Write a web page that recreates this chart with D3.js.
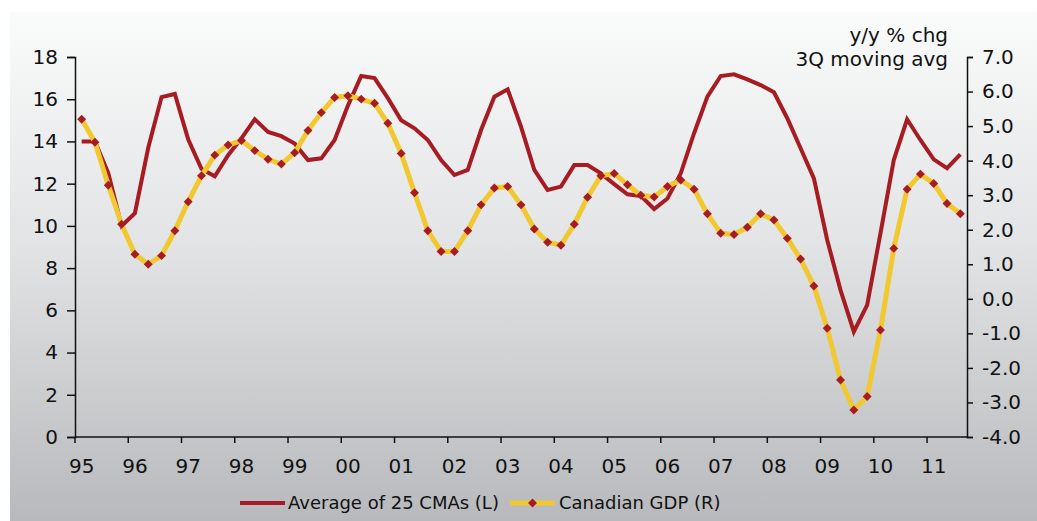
<!DOCTYPE html>
<html lang="en">
<head>
  <meta charset="UTF-8">
  <title>CMA average vs Canadian GDP</title>
  <script src="https://d3js.org/d3.v7.min.js"></script>
  <style>
    body {
      margin: 0;
      background: #ffffff;
      font-family: "DejaVu Sans", Verdana, sans-serif;
    }
    svg text {
      font-family: "DejaVu Sans", Verdana, sans-serif;
      font-size: 18px;
      fill: #111;
    }
    .axis path, .axis line {
      stroke: #111;
      stroke-width: 1.5px;
    }
  </style>
</head>
<body>
  <div id="chart"></div>

  <script>
    // year labels on the x axis, one per year, 3 quarters shown for 2011
    const yearLabels = ["95", "96", "97", "98", "99", "00", "01", "02", "03",
                        "04", "05", "06", "07", "08", "09", "10", "11"];

    // quarterly values, 1995Q1 .. 2011Q3
    const cmaAverage = [
      14.0, 14.0, 12.5, 10.0, 10.6, 13.7, 16.1, 16.25,
      14.1, 12.7, 12.35, 13.35, 14.15, 15.05, 14.45, 14.25,
      13.9, 13.12, 13.2, 14.07, 15.7, 17.1, 17.0, 16.05,
      15.0, 14.62, 14.07, 13.12, 12.41, 12.65, 14.54, 16.12,
      16.47, 14.7, 12.65, 11.7, 11.86, 12.88, 12.88, 12.49,
      11.98, 11.5, 11.42, 10.8, 11.3, 12.49, 14.39, 16.12,
      17.1, 17.18, 16.94, 16.67, 16.33, 15.1, 13.68, 12.25,
      9.33, 6.96, 4.99, 6.25, 9.65, 13.12, 15.05, 14.07,
      13.15, 12.73, 13.39
    ];

    const canadianGdp = [
      5.2, 4.53, 3.29, 2.16, 1.29, 1.0, 1.25, 1.97,
      2.81, 3.56, 4.16, 4.45, 4.58, 4.29, 4.04, 3.9,
      4.23, 4.87, 5.39, 5.83, 5.88, 5.78, 5.66, 5.08,
      4.21, 3.07, 1.97, 1.37, 1.37, 1.97, 2.72, 3.21,
      3.25, 2.72, 2.02, 1.64, 1.55, 2.16, 2.94, 3.56,
      3.63, 3.3, 3.0, 2.95, 3.25, 3.44, 3.17, 2.46,
      1.9, 1.86, 2.07, 2.46, 2.28, 1.75, 1.15, 0.37,
      -0.85, -2.35, -3.22, -2.83, -0.9, 1.46, 3.17, 3.61,
      3.34, 2.76, 2.46
    ];

    const leftTicks = [0, 2, 4, 6, 8, 10, 12, 14, 16, 18];
    const rightTicks = [-4, -3, -2, -1, 0, 1, 2, 3, 4, 5, 6, 7];

    const quarters = [];
    yearLabels.forEach(y => {
      for (let q = 1; q <= 4; q++) quarters.push(y + "Q" + q);
    });
    const cats = quarters.slice(0, cmaAverage.length);

    const width = 1037, height = 521;
    const plot = { left: 75, right: 967, top: 57, bottom: 437 };
    const axisFont = "20px";

    const x = d3.scaleBand()
      .domain(cats)
      .range([plot.left, plot.right])
      .padding(0);
    const cx = d => x(d) + x.bandwidth() / 2;

    const yL = d3.scaleLinear().domain([0, 18]).range([plot.bottom, plot.top]);
    const yR = d3.scaleLinear().domain([-4, 7]).range([plot.bottom, plot.top]);

    const svg = d3.select("#chart")
      .append("svg")
      .attr("width", width)
      .attr("height", height)
      .attr("viewBox", [0, 0, width, height]);

    const defs = svg.append("defs");
    const grad = defs.append("linearGradient")
      .attr("id", "bg")
      .attr("x1", 0).attr("y1", 0).attr("x2", 0).attr("y2", 1);
    grad.append("stop").attr("offset", "0%").attr("stop-color", "#fafbfb");
    grad.append("stop").attr("offset", "45%").attr("stop-color", "#e2e4e5");
    grad.append("stop").attr("offset", "100%").attr("stop-color", "#b7b9bc");

    svg.append("rect")
      .attr("x", 10).attr("y", 12)
      .attr("width", width - 10).attr("height", height - 12)
      .attr("fill", "url(#bg)");

    // x axis: ticks at year boundaries, labels on the first quarter
    const xAxis = svg.append("g").attr("class", "axis");
    xAxis.append("line")
      .attr("x1", plot.left).attr("x2", plot.right)
      .attr("y1", plot.bottom).attr("y2", plot.bottom);
    xAxis.selectAll(".xt")
      .data(yearLabels)
      .join("line")
        .attr("class", "xt")
        .attr("x1", d => x(d + "Q1")).attr("x2", d => x(d + "Q1"))
        .attr("y1", plot.bottom).attr("y2", plot.bottom + 6);
    xAxis.selectAll("text")
      .data(yearLabels)
      .join("text")
        .attr("x", d => cx(d + "Q1"))
        .attr("y", 473)
        .attr("text-anchor", "middle")
        .style("font-size", axisFont)
        .text(d => d);

    // left axis
    svg.append("g")
      .attr("class", "axis")
      .attr("transform", `translate(${plot.left},0)`)
      .call(d3.axisLeft(yL).tickValues(leftTicks).tickSize(8).tickSizeOuter(8).tickPadding(9))
      .call(g => g.selectAll("text").style("font-size", axisFont).attr("fill", "#111"));

    // right axis, plain hyphen for negatives as in the source
    svg.append("g")
      .attr("class", "axis")
      .attr("transform", `translate(${plot.right},0)`)
      .call(d3.axisRight(yR).tickValues(rightTicks).tickFormat(d => d.toFixed(1))
        .tickSize(6).tickSizeOuter(6).tickPadding(9))
      .call(g => g.selectAll("text").style("font-size", axisFont).attr("fill", "#111"));

    svg.append("text")
      .attr("x", 948).attr("y", 42)
      .attr("text-anchor", "end")
      .style("font-size", axisFont)
      .text("y/y % chg");
    svg.append("text")
      .attr("x", 948).attr("y", 66)
      .attr("text-anchor", "end")
      .style("font-size", axisFont)
      .text("3Q moving avg");

    const red = "#a61c22";
    const yellow = "#f1c82f";

    const lineL = d3.line().x((d, i) => cx(cats[i])).y(d => yL(d));
    const lineR = d3.line().x((d, i) => cx(cats[i])).y(d => yR(d));

    svg.append("path")
      .datum(cmaAverage)
      .attr("fill", "none")
      .attr("stroke", red)
      .attr("stroke-width", 4)
      .attr("stroke-linejoin", "miter")
      .attr("d", lineL);

    svg.append("path")
      .datum(canadianGdp)
      .attr("fill", "none")
      .attr("stroke", yellow)
      .attr("stroke-width", 5)
      .attr("stroke-linejoin", "round")
      .attr("d", lineR);

    const diamond = d3.symbol().type(d3.symbolSquare).size(40);
    svg.append("g")
      .selectAll("path")
      .data(canadianGdp)
      .join("path")
        .attr("d", diamond)
        .attr("fill", red)
        .attr("transform", (d, i) => `translate(${cx(cats[i])},${yR(d)}) rotate(45)`);

    // legend
    const legend = svg.append("g");
    legend.append("line")
      .attr("x1", 240).attr("x2", 285).attr("y1", 503).attr("y2", 503)
      .attr("stroke", red).attr("stroke-width", 4);
    legend.append("text").attr("x", 288).attr("y", 509).text("Average of 25 CMAs (L)");
    legend.append("line")
      .attr("x1", 510).attr("x2", 555).attr("y1", 503).attr("y2", 503)
      .attr("stroke", yellow).attr("stroke-width", 5);
    legend.append("path")
      .attr("d", diamond)
      .attr("fill", red)
      .attr("transform", "translate(532.5,503) rotate(45)");
    legend.append("text").attr("x", 559).attr("y", 509).text("Canadian GDP (R)");
  </script>
</body>
</html>
